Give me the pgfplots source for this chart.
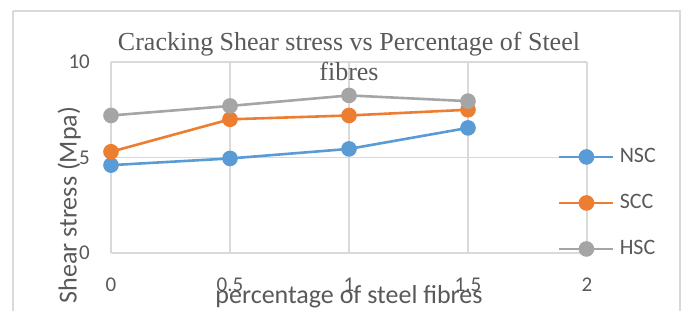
\documentclass[border=0pt]{standalone}
\usepackage{pgfplots}
\pgfplotsset{compat=1.18}
\usepackage{fontspec}
\setmainfont{Carlito}
\newfontfamily\titlefont{Liberation Serif}
\definecolor{nsc}{HTML}{5B9BD5}
\definecolor{scc}{HTML}{ED7D31}
\definecolor{hsc}{HTML}{A5A5A5}
\definecolor{txt}{HTML}{595959}
\definecolor{grd}{HTML}{D9D9D9}
\begin{document}
\begin{tikzpicture}
\path[use as bounding box] (0,0) rectangle (686bp,311bp);
\draw[grd, line width=1.2bp] (13bp,300bp) -- (13bp,-5bp);
\draw[grd, line width=1.2bp] (13bp,300bp) -- (680bp,300bp) -- (680bp,-5bp);
\begin{axis}[
  at={(111bp,58bp)}, anchor=south west,
  scale only axis, width=476bp, height=191bp,
  xmin=0, xmax=2, ymin=0, ymax=10,
  xtick={0,0.5,1,1.5,2}, ytick={0,5,10},
  xticklabels={0,0.5,1,1.5,2},
  grid=major,
  major grid style={grd, line width=1.3bp},
  axis line style={draw=none},
  tick style={draw=none},
  /pgf/number format/assume math mode=true,
  ticklabel style={font=\fontsize{21bp}{24bp}\selectfont, text=txt, inner sep=0pt},
  xticklabel style={anchor=center, yshift=-32bp},
  yticklabel style={anchor=east, xshift=-21bp},
  xlabel={percentage of steel fibres},
  xlabel style={at={(axis description cs:0.5,-0.23)}, anchor=center, font=\fontsize{26bp}{30bp}\selectfont, text=txt},
  ylabel={Shear stress (Mpa)},
  ylabel style={at={(axis description cs:-0.088,0.251)}, anchor=center, font=\fontsize{26bp}{30bp}\selectfont, text=txt},
  title={Cracking Shear stress vs Percentage of Steel\\fibres},
  title style={at={(axis description cs:0.5,1.0)}, anchor=center, align=center, font=\titlefont\fontsize{26bp}{30bp}\selectfont, text=txt},
  legend style={at={(axis description cs:0.939,0.262)}, anchor=west, draw=none, fill=none, inner sep=0pt,
    font=\fontsize{22bp}{25bp}\selectfont, text=txt,
    nodes={inner sep=0pt, text height=15bp, text depth=4bp}, row sep=27bp},
  legend cell align=left,
  /tikz/every odd column/.append style={column sep=5bp},
  legend image code/.code={\draw[mark repeat=2,mark phase=2] plot coordinates {(0bp,0bp)(27bp,0bp)(54bp,0bp)};},
  every axis plot/.append style={line width=2.6bp, mark=*, mark size=6.5bp, mark options={solid}},
]
\addplot[nsc, mark options={fill=nsc, draw=nsc}] coordinates {(0,4.6) (0.5,4.95) (1,5.45) (1.5,6.55)};
\addlegendentry{NSC}
\addplot[scc, mark options={fill=scc, draw=scc}] coordinates {(0,5.3) (0.5,7.0) (1,7.2) (1.5,7.5)};
\addlegendentry{SCC}
\addplot[hsc, mark options={fill=hsc, draw=hsc}] coordinates {(0,7.2) (0.5,7.7) (1,8.25) (1.5,7.95)};
\addlegendentry{HSC}
\end{axis}
\end{tikzpicture}
\end{document}
